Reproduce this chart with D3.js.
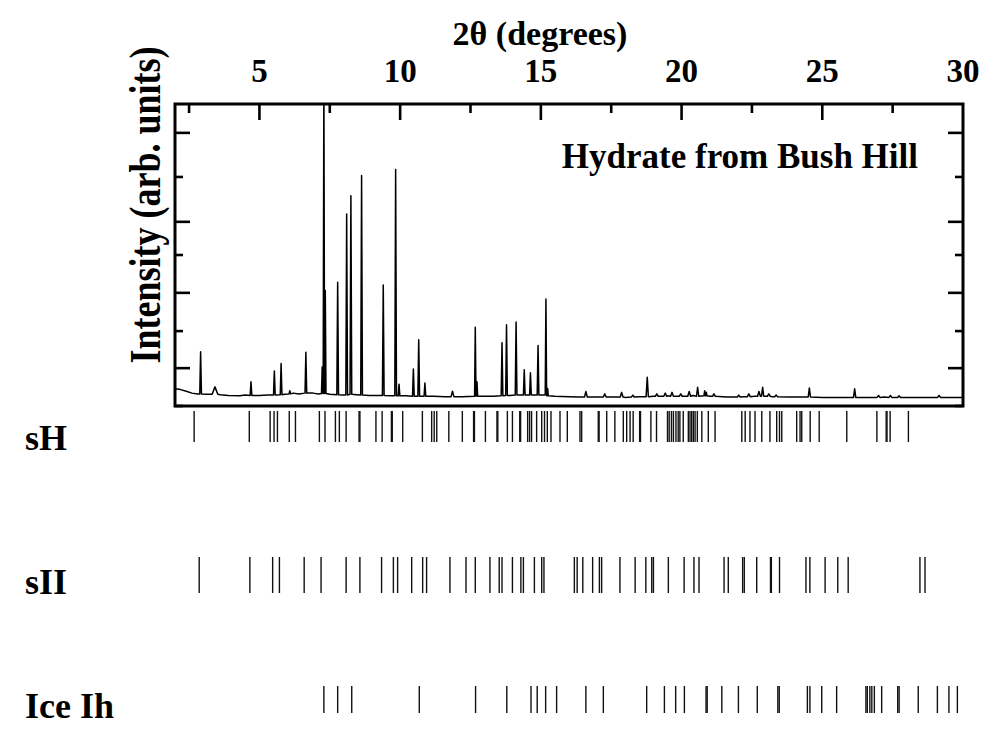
<!DOCTYPE html>
<html>
<head>
<meta charset="utf-8">
<script src="https://cdn.jsdelivr.net/npm/d3@7"></script>
<style>
  html, body { margin: 0; padding: 0; background: #fff; }
  svg { display: block; }
  text { font-family: "Liberation Serif", "Times New Roman", serif; font-weight: bold; fill: #000; }
</style>
</head>
<body>
<svg id="chart" width="1000" height="751"></svg>
<script>
// ---- data (2θ in degrees, intensity in arbitrary units) ----
const xTickLabels = [5, 10, 15, 20, 25, 30];
const xMinorTicks = [2.5, 7.5, 12.5, 17.5, 22.5, 27.5];
const yMajorTicks = [0.97, 2.90, 4.72, 7.0];
const yMinorTicks = [0, 1.92, 3.87, 5.87];

// background of the measured pattern [2θ, intensity]
const background = [
  [2.0,0.44],[2.2,0.42],[2.4,0.38],[2.6,0.33],[2.8,0.31],[3.1,0.30],[3.6,0.29],[3.9,0.27],
  [4.3,0.26],[4.5,0.28],[5.0,0.27],[5.3,0.28],[5.9,0.30],[6.2,0.33],[6.4,0.31],[6.9,0.33],
  [7.1,0.31],[7.5,0.30],[7.95,0.28],[8.45,0.29],[8.9,0.27],[9.2,0.27],[9.7,0.26],[10.2,0.26],
  [10.6,0.25],[11.2,0.25],[11.6,0.24],[12.2,0.24],[12.9,0.25],[13.3,0.25],[13.9,0.27],[14.3,0.28],
  [15.0,0.28],[15.5,0.25],[16.0,0.24],[16.4,0.23],[17.0,0.23],[17.6,0.23],[18.0,0.22],[18.5,0.24],
  [19.0,0.25],[19.5,0.26],[20.0,0.26],[20.4,0.27],[21.0,0.25],[21.6,0.23],[22.2,0.24],[22.6,0.25],
  [23.2,0.24],[23.8,0.23],[24.2,0.23],[25.0,0.22],[25.6,0.22],[26.5,0.22],[27.2,0.23],[28.0,0.22],
  [28.6,0.22],[29.5,0.22],[30.0,0.22]
];

// observed peaks [2θ, top intensity, base intensity, half width]
const peaks = [
  [2.91,1.39,0.31,0.03],[3.42,0.49,0.30,0.10],[4.70,0.62,0.27,0.03],[5.53,0.90,0.28,0.03],
  [5.77,1.09,0.29,0.03],[6.08,0.39,0.31,0.03],[6.65,1.38,0.33,0.03],[7.23,1.00,0.32,0.025],
  [7.29,8.50,0.32,0.025],[7.34,2.96,0.32,0.025],[7.78,3.17,0.29,0.03],[8.10,4.92,0.28,0.03],
  [8.25,5.39,0.30,0.03],[8.63,5.91,0.28,0.03],[9.40,3.10,0.27,0.03],[9.84,6.06,0.26,0.03],
  [9.96,0.56,0.26,0.03],[10.47,0.95,0.25,0.03],[10.66,1.70,0.25,0.03],[10.88,0.59,0.25,0.03],
  [11.86,0.38,0.24,0.05],[12.67,2.02,0.25,0.025],[12.73,0.62,0.25,0.025],[13.62,1.62,0.26,0.03],
  [13.78,2.08,0.27,0.03],[14.12,2.15,0.28,0.03],[14.41,0.93,0.28,0.03],[14.63,0.85,0.28,0.03],
  [14.90,1.55,0.28,0.03],[15.18,2.74,0.28,0.025],[15.24,0.45,0.26,0.025],[16.60,0.37,0.23,0.05],
  [17.27,0.31,0.23,0.05],[17.87,0.35,0.23,0.05],[18.27,0.28,0.23,0.05],[18.78,0.74,0.24,0.04],
  [19.12,0.31,0.25,0.05],[19.42,0.33,0.25,0.05],[19.66,0.35,0.25,0.05],[19.97,0.31,0.25,0.05],
  [20.27,0.37,0.25,0.05],[20.57,0.48,0.25,0.04],[20.82,0.39,0.26,0.025],[20.88,0.35,0.26,0.025],
  [21.15,0.31,0.25,0.05],[22.03,0.28,0.23,0.05],[22.39,0.31,0.24,0.05],[22.75,0.37,0.25,0.05],
  [22.88,0.48,0.25,0.04],[23.10,0.31,0.25,0.05],[23.36,0.28,0.24,0.05],[24.54,0.46,0.23,0.04],
  [26.15,0.44,0.22,0.04],[27.00,0.27,0.22,0.05],[27.42,0.27,0.22,0.05],[27.73,0.26,0.22,0.05],
  [29.15,0.27,0.22,0.05]
];

// calculated reflection positions (2θ)
const sH = [2.68,4.64,5.38,5.52,5.64,6.06,6.28,7.13,7.33,7.70,7.84,8.08,8.54,8.57,9.14,9.36,9.69,9.72,
  10.09,10.79,11.12,11.21,11.30,11.73,12.21,12.61,12.64,13.03,13.44,13.47,13.81,13.99,14.25,14.28,
  14.53,14.60,14.67,14.85,15.03,15.13,15.23,15.36,15.68,15.94,16.39,16.45,17.04,17.07,17.34,17.63,
  17.93,18.05,18.17,18.28,18.51,18.54,18.91,19.11,19.50,19.56,19.64,19.71,19.80,19.88,19.94,20.06,
  20.24,20.30,20.36,20.42,20.48,20.56,20.72,20.95,21.19,22.14,22.26,22.43,22.61,22.85,23.14,23.38,
  23.48,23.56,24.09,24.21,24.27,24.57,24.89,25.87,26.94,27.27,27.30,27.41,28.06];
const sII = [2.86,4.66,5.47,5.71,6.59,7.19,8.08,8.57,9.34,9.76,9.91,10.41,10.80,10.94,11.77,12.34,
  12.67,13.19,13.52,13.62,13.99,14.29,14.38,14.77,15.03,15.11,16.19,16.29,16.49,16.84,17.08,17.16,
  17.81,18.35,18.73,18.94,19.00,19.53,20.09,20.44,20.62,21.51,21.66,22.17,22.23,22.67,23.16,23.19,
  23.48,24.42,24.56,25.10,25.55,25.92,28.47,28.65];
const iceIh = [7.29,7.78,8.28,10.68,12.68,13.79,14.65,14.87,15.17,15.56,16.60,17.22,18.76,19.39,
  19.79,20.10,20.87,20.91,21.43,22.02,22.69,23.42,23.47,24.47,24.56,24.98,25.51,26.55,26.60,26.69,
  26.76,26.85,27.11,27.68,27.73,28.41,29.09,29.50,29.80];

const phaseRows = [
  { name: "sH", refl: sH },
  { name: "sII", refl: sII },
  { name: "Ice Ih", refl: iceIh }
];

// ---- layout ----
const svg = d3.select("#chart");
const x = d3.scaleLinear().domain([2, 30]).range([175, 963]);
const y = d3.scaleLinear().domain([0, 7.74]).range([406, 104]);
const rowY = [[411, 442], [557, 593], [686, 713]];
const rowLabelY = [450, 594, 718];

// clip
svg.append("defs").append("clipPath").attr("id", "plotclip")
  .append("rect").attr("x", x(2)).attr("y", y(7.74)).attr("width", x(30) - x(2)).attr("height", y(0) - y(7.74));

// pattern line
const pts = [];
background.forEach(b => {
  if (!peaks.some(p => Math.abs(p[0] - b[0]) < p[3] + 0.02)) pts.push([b[0], b[1]]);
});
peaks.forEach(p => {
  pts.push([p[0] - p[3], p[2]]);
  pts.push([p[0], p[1]]);
  pts.push([p[0] + p[3], p[2]]);
});
pts.sort((a, b) => a[0] - b[0]);

svg.append("path")
  .attr("clip-path", "url(#plotclip)")
  .attr("d", d3.line().x(d => x(d[0])).y(d => y(d[1]))(pts))
  .attr("fill", "none").attr("stroke", "#000").attr("stroke-width", 1.5)
  .attr("stroke-linejoin", "round");

// frame
svg.append("rect")
  .attr("x", x(2)).attr("y", y(7.74)).attr("width", x(30) - x(2)).attr("height", y(0) - y(7.74))
  .attr("fill", "none").attr("stroke", "#000").attr("stroke-width", 3);

// top ticks (inward)
const g = svg.append("g").attr("stroke", "#000").attr("stroke-width", 2.6);
g.selectAll(".tmaj").data(xTickLabels.filter(v => v < 30)).join("line")
  .attr("x1", d => x(d)).attr("x2", d => x(d)).attr("y1", y(7.74)).attr("y2", y(7.74) + 16);
g.selectAll(".tmin").data(xMinorTicks).join("line")
  .attr("x1", d => x(d)).attr("x2", d => x(d)).attr("y1", y(7.74)).attr("y2", y(7.74) + 9);
// left & right ticks (inward)
[[x(2), 1], [x(30), -1]].forEach(([x0, dir]) => {
  g.append("g").selectAll("line").data(yMajorTicks).join("line")
    .attr("x1", x0).attr("x2", x0 + dir * 15).attr("y1", d => y(d)).attr("y2", d => y(d));
  g.append("g").selectAll("line").data(yMinorTicks).join("line")
    .attr("x1", x0).attr("x2", x0 + dir * 8).attr("y1", d => y(d)).attr("y2", d => y(d));
});

// top tick labels
svg.append("g").selectAll("text").data(xTickLabels).join("text")
  .attr("x", d => x(d)).attr("y", 82).attr("text-anchor", "middle")
  .style("font-size", "33px").text(d => d);

svg.append("text").attr("x", 540).attr("y", 45).attr("text-anchor", "middle")
  .style("font-size", "34px").text("2θ (degrees)");

svg.append("text").attr("transform", "translate(160,205) rotate(-90) scale(1,1.22)").attr("text-anchor", "middle")
  .style("font-size", "36px").text("Intensity (arb. units)");

svg.append("text").attr("x", 918).attr("y", 168).attr("text-anchor", "end")
  .style("font-size", "35px").text("Hydrate from Bush Hill");

// reflection rows
phaseRows.forEach((row, i) => {
  svg.append("g").selectAll("line").data(row.refl).join("line")
    .attr("x1", d => x(d)).attr("x2", d => x(d))
    .attr("y1", rowY[i][0]).attr("y2", rowY[i][1])
    .attr("stroke", "#111").attr("stroke-width", 1.4);
  svg.append("text").attr("x", 25).attr("y", rowLabelY[i])
    .style("font-size", "36px").text(row.name);
});
</script>
</body>
</html>
